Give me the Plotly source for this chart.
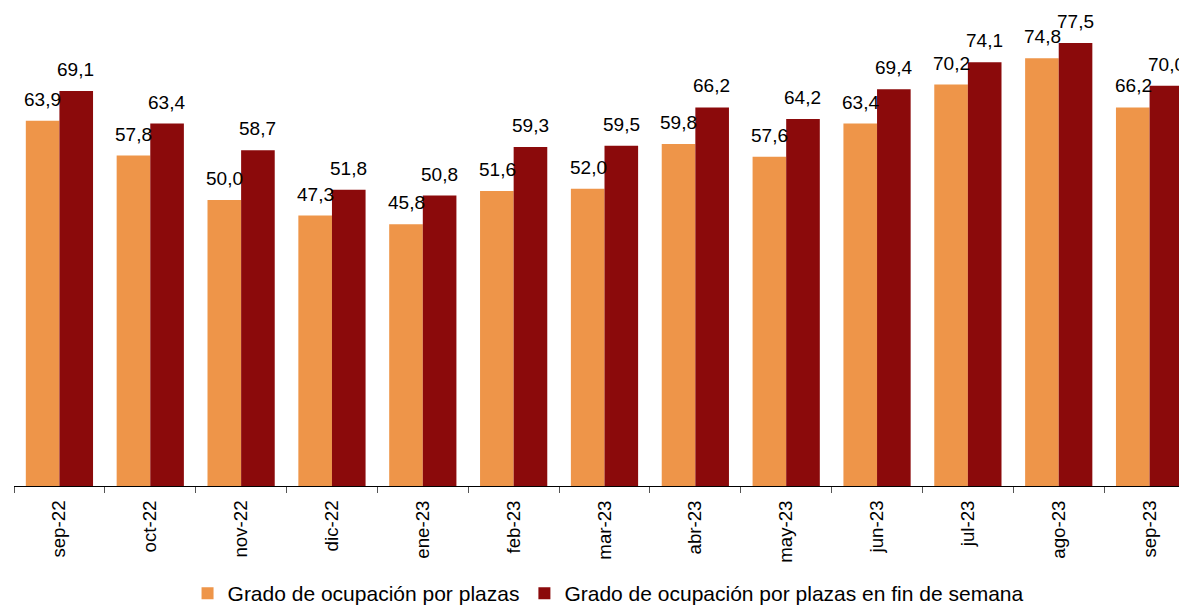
import plotly.graph_objects as go

categories = ["sep-22", "oct-22", "nov-22", "dic-22", "ene-23", "feb-23", "mar-23",
              "abr-23", "may-23", "jun-23", "jul-23", "ago-23", "sep-23"]
plazas = [63.9, 57.8, 50.0, 47.3, 45.8, 51.6, 52.0, 59.8, 57.6, 63.4, 70.2, 74.8, 66.2]
fin_semana = [69.1, 63.4, 58.7, 51.8, 50.8, 59.3, 59.5, 66.2, 64.2, 69.4, 74.1, 77.5, 70.0]
series_names = ["Grado de ocupación por plazas",
                "Grado de ocupación por plazas en fin de semana"]
colors = ["#EE9549", "#8B0A0B"]

FONT = "Liberation Sans, Arial, sans-serif"

fig = go.Figure()
for name, vals, col in zip(series_names, [plazas, fin_semana], colors):
    fig.add_trace(go.Bar(x=categories, y=vals, name=name, marker_color=col,
                         marker_line_width=0))

annotations = []
for vals, shift in [(plazas, -16.5), (fin_semana, 16.5)]:
    for c, v in zip(categories, vals):
        annotations.append(dict(x=c, y=v, xref="x", yref="y",
                                text=f"{v:.1f}".replace(".", ","),
                                showarrow=False, xshift=shift, yshift=9,
                                yanchor="bottom", xanchor="center",
                                font=dict(family=FONT, size=19, color="#000")))

fig.update_layout(
    width=1187, height=605,
    margin=dict(l=5.5, r=0, t=0, b=127, autoexpand=False),
    plot_bgcolor="white", paper_bgcolor="white",
    barmode="group", bargap=0.26, bargroupgap=0,
    font=dict(family=FONT, size=18, color="#000"),
    annotations=annotations,
    showlegend=True,
    legend=dict(orientation="h", x=0.503, xanchor="center", y=-0.182, yanchor="top",
                font=dict(family=FONT, size=21, color="#000"),
                itemwidth=30, traceorder="normal"),
    xaxis=dict(range=[-0.5, 12.5], showline=True, linecolor="#000", linewidth=1,
               automargin=False,
               ticks="outside", tickson="boundaries", ticklen=6, tickcolor="#555",
               ticklabelstandoff=6,
               tickangle=-90, tickfont=dict(family=FONT, size=18.7, color="#000"),
               showgrid=False, zeroline=False),
    yaxis=dict(range=[0, 83.6], visible=False, showgrid=False, zeroline=False,
               automargin=False),
)

fig.write_html("out.html")
